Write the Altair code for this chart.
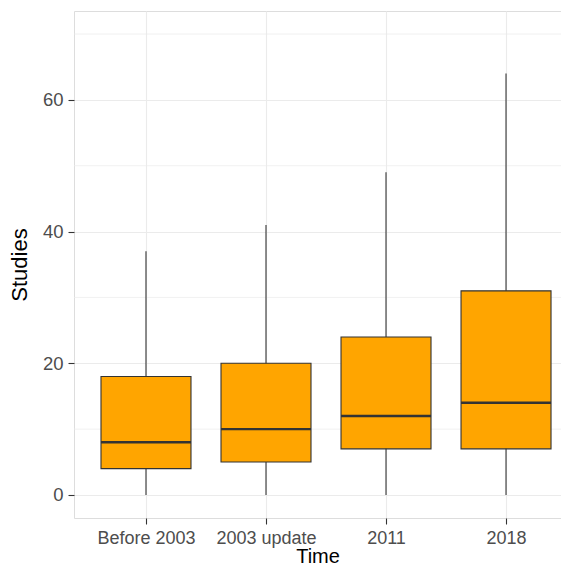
import altair as alt
import pandas as pd

categories = ["Before 2003", "2003 update", "2011", "2018"]
whisker_low = [0, 0, 0, 0]
q1 = [4, 5, 7, 7]
median = [8, 10, 12, 14]
q3 = [18, 20, 24, 31]
whisker_high = [37, 41, 49, 64]

major_breaks = [0, 20, 40, 60]
minor_breaks = [10, 30, 50, 70]
y_domain = [-3.5, 73.5]

df = pd.DataFrame({
    "Time": categories,
    "lo": whisker_low,
    "q1": q1,
    "med": median,
    "q3": q3,
    "hi": whisker_high,
})
minor_df = pd.DataFrame({"v": minor_breaks})

FONT = "Liberation Sans"
DARK = "#333333"
GRID = "#EBEBEB"

x_enc = alt.X(
    "Time:N",
    sort=categories,
    scale=alt.Scale(type="point", padding=0.529, align=0.567),
    axis=alt.Axis(
        title="Time",
        labelAngle=0,
        labelFontSize=18,
        labelColor="#4D4D4D",
        labelFont=FONT,
        labelBaseline="alphabetic",
        labelPadding=19,
        tickSize=6,
        tickColor=DARK,
        tickWidth=1.1,
        domain=False,
        grid=True,
        gridColor=GRID,
        gridWidth=1.1,
        titleFontSize=20,
        titleFont=FONT,
        titleFontWeight="normal",
        titleColor="black",
        titleBaseline="alphabetic",
        titleY=44,
    ),
)

y_scale = alt.Scale(domain=y_domain, nice=False, zero=False)
y_axis = alt.Axis(
    title="Studies",
    values=major_breaks,
    labelFontSize=18.5,
    labelColor="#4D4D4D",
    labelFont=FONT,
    labelPadding=5,
    tickSize=6,
    tickColor=DARK,
    tickWidth=1.1,
    domain=False,
    grid=True,
    gridColor=GRID,
    gridWidth=1.1,
    titleFontSize=22,
    titleFont=FONT,
    titleFontWeight="normal",
    titleColor="black",
    titlePadding=11,
)

minor = alt.Chart(minor_df).mark_rule(color=GRID, strokeWidth=0.7).encode(
    y=alt.Y("v:Q", scale=y_scale, axis=y_axis)
)

base = alt.Chart(df)

whisk = base.mark_rule(color=DARK, strokeWidth=1.1).encode(
    x=x_enc,
    y=alt.Y("lo:Q", scale=y_scale, axis=y_axis),
    y2="hi:Q",
)

box = base.mark_bar(size=90, color="#FFA500", stroke=DARK, strokeWidth=1.1).encode(
    x=x_enc,
    y=alt.Y("q1:Q", scale=y_scale, axis=y_axis),
    y2="q3:Q",
)

med = base.mark_tick(size=90, thickness=2.4, color=DARK, opacity=1).encode(
    x=x_enc,
    y=alt.Y("med:Q", scale=y_scale, axis=y_axis),
)

chart = (
    alt.layer(minor, whisk, box, med)
    .properties(
        width=487,
        height=507,
        autosize=alt.AutoSizeParams(type="none"),
        padding={"left": 66, "top": 3, "right": 0, "bottom": 47},
    )
    .configure_view(stroke=DARK, strokeWidth=1.1)
    .configure(background="white")
)

chart.save("out.html", embed_options={"renderer": "svg", "actions": False})
